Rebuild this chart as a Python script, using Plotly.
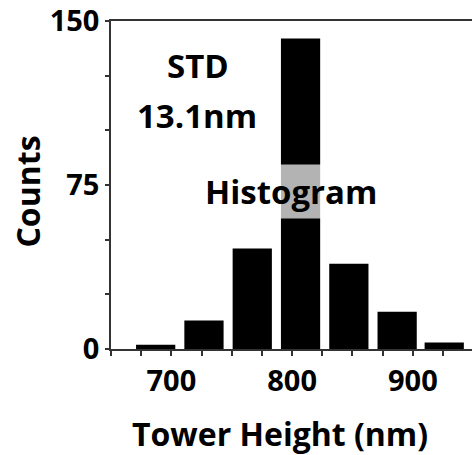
import plotly.graph_objects as go

# Histogram of tower heights
bin_centers = [687, 727, 767, 807, 847, 887, 926]
counts = [2, 13, 46, 142, 39, 17, 3]
x_tick_vals = [700, 800, 900]
y_tick_vals = [0, 75, 150]

FONT = "Open Sans"
AXIS_COLOR = "#333"

fig = go.Figure(
    go.Bar(
        x=bin_centers,
        y=counts,
        width=32.5,
        marker=dict(color="black", line=dict(width=0)),
    )
)

fig.update_layout(
    width=472,
    height=455,
    margin=dict(l=111, r=0, t=21, b=106),
    paper_bgcolor="white",
    plot_bgcolor="white",
    showlegend=False,
    font=dict(family=FONT, color="black"),
)

fig.update_xaxes(
    range=[650, 949],
    tickmode="array",
    tickvals=x_tick_vals,
    ticktext=[f"<b>{v}</b>" for v in x_tick_vals],
    ticks="outside",
    ticklen=5,
    tickwidth=1.5,
    tickcolor=AXIS_COLOR,
    minor=dict(dtick=25, tick0=650, ticks="outside", ticklen=5, tickwidth=1.5, tickcolor=AXIS_COLOR),
    tickfont=dict(size=29, family=FONT, color="black"),
    showline=True,
    linecolor=AXIS_COLOR,
    linewidth=1.5,
    mirror=True,
    showgrid=False,
    zeroline=False,
)

fig.update_yaxes(
    range=[0, 150],
    tickmode="array",
    tickvals=y_tick_vals,
    ticktext=[f"<b>{v}</b>" for v in y_tick_vals],
    ticks="outside",
    ticklen=4,
    tickwidth=1.5,
    tickcolor=AXIS_COLOR,
    minor=dict(dtick=25, tick0=0, ticks="outside", ticklen=4, tickwidth=1.5, tickcolor=AXIS_COLOR),
    tickfont=dict(size=29, family=FONT, color="black"),
    showline=True,
    linecolor=AXIS_COLOR,
    linewidth=1.5,
    showgrid=False,
    zeroline=False,
)

title_font = dict(size=32, family=FONT, color="black")
annotation_font = dict(size=33, family=FONT, color="black")

# Axis titles
fig.add_annotation(
    x=0.467, y=-0.259, xref="paper", yref="paper", xanchor="center", yanchor="middle",
    text="<b>Tower Height (nm)</b>", showarrow=False, font=title_font,
)
fig.add_annotation(
    x=-0.23, y=0.48, xref="paper", yref="paper", xanchor="center", yanchor="middle",
    text="<b>Counts</b>", textangle=-90, showarrow=False, font=title_font,
)

# In-plot labels
fig.add_annotation(
    x=0.241, y=0.863, xref="paper", yref="paper", xanchor="center", yanchor="middle",
    text="<b>STD</b>", showarrow=False, font=annotation_font,
)
fig.add_annotation(
    x=0.238, y=0.713, xref="paper", yref="paper", xanchor="center", yanchor="middle",
    text="<b>13.1nm</b>", showarrow=False, font=annotation_font,
)
fig.add_annotation(
    x=0.4986, y=0.48, xref="paper", yref="paper", xanchor="center", yanchor="middle",
    text="<b>Histogram</b>", showarrow=False,
    bgcolor="rgba(255,255,255,0.7)",
    borderpad=4,
    font=annotation_font,
)

fig.write_html("out.html")
